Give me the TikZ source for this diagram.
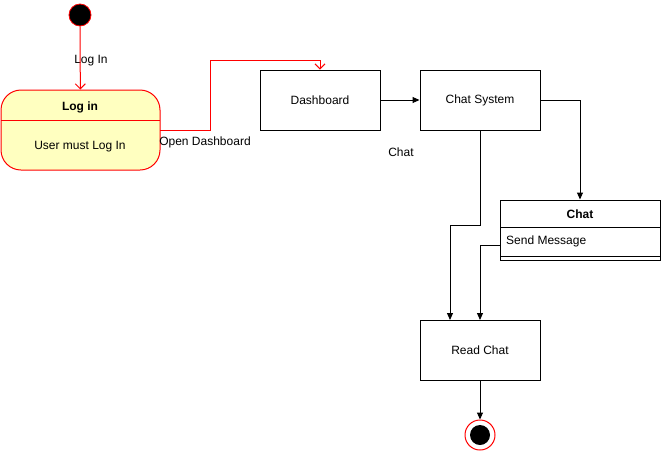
\documentclass[tikz,border=0pt]{standalone}
\usepackage{fontspec}
\setmainfont{Liberation Sans}
\usetikzlibrary{arrows.meta}
\definecolor{stateyellow}{HTML}{FFFFC0}
\begin{document}
\begin{tikzpicture}[x=1pt,y=-1pt,
  every node/.style={font=\fontsize{12}{14}\selectfont},
  box/.style={draw=black,line width=1pt,minimum width=120pt,minimum height=60pt,inner sep=0pt},
  redflow/.style={draw=red,line width=1pt,-{Straight Barb[length=5pt,width=10pt]}},
  blackflow/.style={draw=black,line width=1pt,-{Triangle[length=7pt,width=6pt]}},
  lbl/.style={inner sep=1pt}]
\useasboundingbox (0,0) rectangle (661,451);
% start
\node[circle,fill=black,draw=red,line width=0.8pt,minimum size=22pt,inner sep=0pt] (start) at (80,15) {};
% login state
\node[draw=red,fill=stateyellow,line width=1pt,rounded corners=20pt,minimum width=159pt,minimum height=80pt,inner sep=0pt] (login) at (80.5,130) {};
\coordinate (ldl) at (1,120);
\coordinate (ldr) at (160,120);
\draw[red,line width=1pt] (ldl) -- (ldr);
\node[font=\fontsize{12}{14}\selectfont\bfseries] (logintitle) at (80,107) {Log in};
\node (loginbody) at (80,147) {User must Log In};
% boxes
\node[box] (dash) at (320,100) {\raisebox{-1pt}{Dashboard}};
\node[box] (chatsys) at (480,100) {\raisebox{-1pt}{Chat System}};
\node[box] (read) at (480,350) {\raisebox{-1pt}{Read Chat}};
\node (chatlbl) at (401,152) {Chat};
% chat class
\node[draw=black,line width=1pt,minimum width=160pt,minimum height=60pt,inner sep=0pt] (chatclass) at (580,230) {};
\coordinate (cc1l) at (500,227); \coordinate (cc1r) at (660,227);
\coordinate (cc2l) at (500,256); \coordinate (cc2r) at (660,256);
\draw[line width=1pt] (cc1l) -- (cc1r);
\draw[line width=1pt] (cc2l) -- (cc2r);
\node[font=\fontsize{12}{14}\selectfont\bfseries] (chattitle) at (580,214.5) {Chat};
\node[anchor=west,inner sep=0pt] (sendmsg) at (506,241) {Send Message};
% end
\node[circle,draw=red,line width=1pt,fill=white,minimum size=30pt,inner sep=0pt] (endo) at (480,435) {};
\node[circle,fill=black,minimum size=20pt,inner sep=0pt] (endi) at (480,435) {};
% labels
\node[lbl] (loginlbl) at (91,61) {Log In};
\node[lbl] (openlbl) at (205,142) {Open Dashboard};
% connectors
\draw[redflow] (start) -- (login);
\coordinate (lo) at (160,130);
\draw[redflow] (lo) -- (210,130) -- (210,60) -- (320,60) -- (dash.north);
\draw[blackflow] (dash) -- (chatsys);
\draw[blackflow] (chatsys.east) -- (580,100) -- (chatclass.north);
\coordinate (csb) at (480,130);
\coordinate (rin1) at (450,320);
\coordinate (rin2) at (480,320);
\coordinate (sm) at (500,245);
\draw[blackflow] (csb) -- (480,225) -- (450,225) -- (rin1);
\draw[blackflow] (sm) -- (480,245) -- (rin2);
\draw[blackflow] (read) -- (endo);
\end{tikzpicture}
\end{document}
